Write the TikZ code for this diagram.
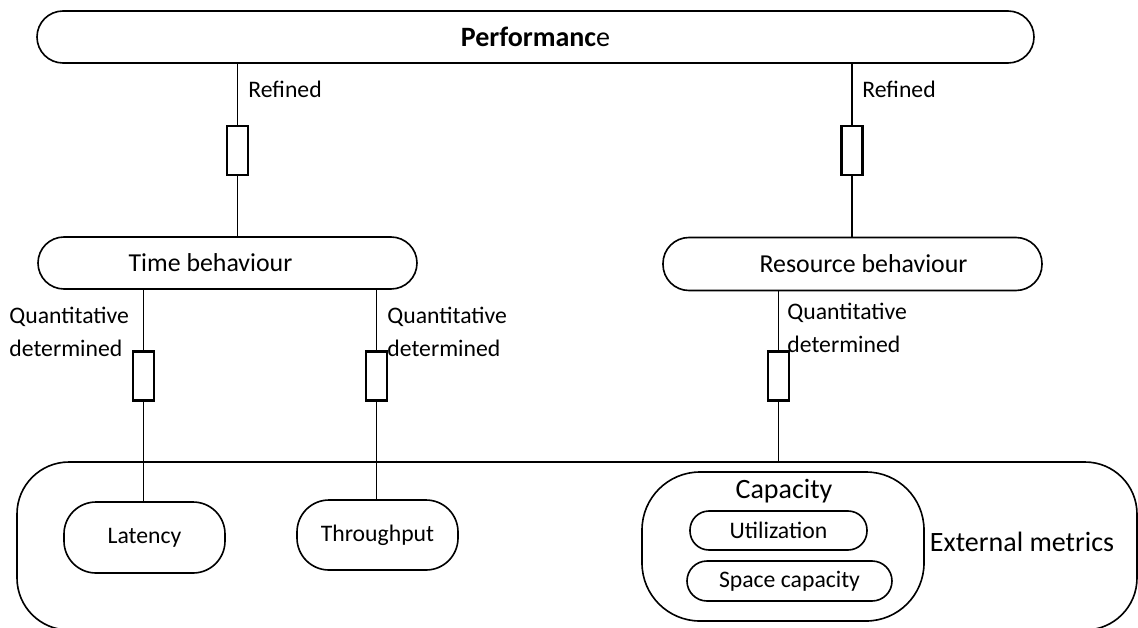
\documentclass[tikz,border=0pt]{standalone}
\usepackage{fontspec}
\setmainfont{Carlito}
\usetikzlibrary{positioning}

\newcommand\pxu{0.4642pt}

\tikzset{
	pill/.style={draw, line width=0.75pt, fill=white, rounded corners=#1*\pxu, inner sep=0pt},
	gate/.style={draw, line width=1.1pt, fill=white, minimum width=21*\pxu, minimum height=49*\pxu, inner sep=0pt},
	link/.style={line width=0.65pt},
	lbl/.style={font=\fontsize{11}{15.3}\selectfont, inner sep=0pt, align=left},
	big/.style={font=\fontsize{12}{14}\selectfont},
	huge/.style={font=\fontsize{13}{15}\selectfont},
}

\begin{document}
\begin{tikzpicture}[x=\pxu, y=-\pxu]
		\useasboundingbox (0,0) rectangle (1138,627);
		\clip (0,0) rectangle (1138,627);

		% boxes
		\node [pill=26, huge, minimum width=997*\pxu, minimum height=52*\pxu] (perf) at (535.5,37) {\bfseries Performanc\mdseries e};
		\node [pill=26, big, minimum width=379*\pxu, minimum height=52*\pxu] (time) at (227.5,263) {Time behaviour\hspace*{15.8pt}};
		\node [pill=26, big, minimum width=379*\pxu, minimum height=53*\pxu] (res) at (852.5,264) {\hspace*{10.2pt}Resource behaviour};

		\node [pill=52, minimum width=1120*\pxu, minimum height=168*\pxu] (ext) at (577,546) {};
		\node [huge, inner sep=0pt] (extlbl) at (1022,542) {External metrics};

		\node [pill=32, lbl, minimum width=161*\pxu, minimum height=71*\pxu] (lat) at (144.5,537.5) {Latency};
		\node [pill=32, lbl, minimum width=161*\pxu, minimum height=70*\pxu] (thr) at (377.5,535) {Throughput};

		\node [pill=58, minimum width=282*\pxu, minimum height=149*\pxu] (cap) at (783,546.5) {};
		\node [huge, inner sep=0pt] (caplbl) at (784,491) {Capacity};
		\node [pill=19, lbl, minimum width=177*\pxu, minimum height=39*\pxu] (util) at (778.5,530.5) {Utilization};
		\node [pill=20, lbl, minimum width=205*\pxu, minimum height=40*\pxu] (space) at (789.5,581) {Space capacity};

		% gates
		\node [gate] (r1) at (237.5,150.5) {};
		\node [gate] (r2) at (852,150.5) {};
		\node [gate] (r3) at (143.5,376) {};
		\node [gate] (r4) at (376.5,376) {};
		\node [gate] (r5) at (778.5,376) {};

		% links
		\draw [link] (perf.south -| r1.north) -- (r1.north);
		\draw [link] (r1.south) -- (time.north -| r1.south);
		\draw [link] (perf.south -| r2.north) -- (r2.north);
		\draw [link] (r2.south) -- (res.north -| r2.south);
		\draw [link] (time.south -| r3.north) -- (r3.north);
		\draw [link] (r3.south) -- (lat.north -| r3.south);
		\draw [link] (time.south -| r4.north) -- (r4.north);
		\draw [link] (r4.south) -- (thr.north -| r4.south);
		\draw [link] (res.south -| r5.north) -- (r5.north);
		\draw [link] (r5.south) -- (ext.north -| r5.south);

		% labels
		\node [lbl, anchor=west] (ref1) at (248,89) {Refined};
		\node [lbl, anchor=west] (ref2) at (862,89) {Refined};
		\node [lbl, anchor=west] (q1) at (9,331.5) {Quantitative\\determined};
		\node [lbl, anchor=west] (q2) at (387,331.5) {Quantitative\\determined};
		\node [lbl, anchor=west] (q3) at (787,327.5) {Quantitative\\determined};
	\end{tikzpicture}
\end{document}
